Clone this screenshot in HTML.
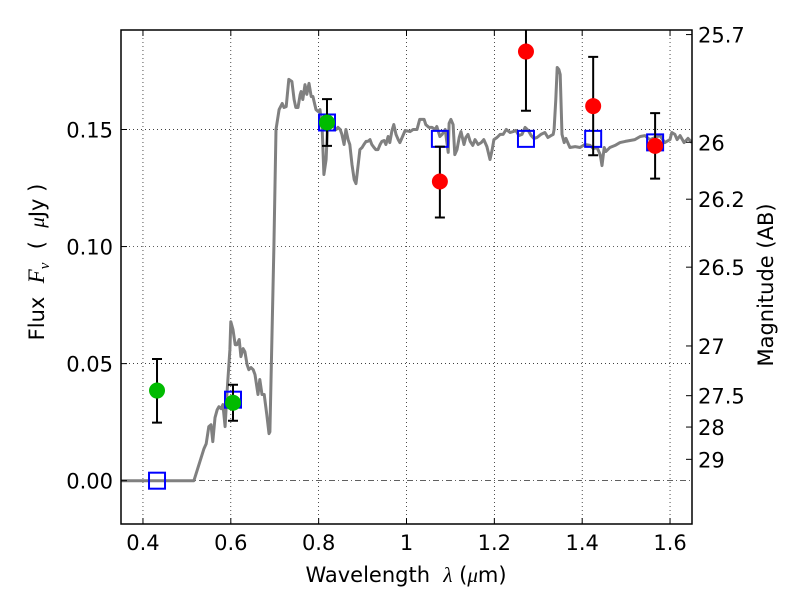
<!DOCTYPE html>
<html><head><meta charset="utf-8"><style>
body{margin:0;background:#fff}
svg{font-family:"DejaVu Sans","Liberation Sans",sans-serif}
.t{font-size:21px;fill:#000}
</style></head><body>
<svg id="c" width="800" height="600" viewBox="0 0 800 600">
<defs><clipPath id="pc"><rect x="121" y="30" width="571" height="494"/></clipPath></defs>
<rect x="0" y="0" width="800" height="600" fill="#fff"/>
<g id="grid"></g>
<g id="spec" clip-path="url(#pc)"></g>
<g id="pts" clip-path="url(#pc)"></g>
<g id="axes"></g>
<text class="t" x="406" y="582" text-anchor="middle" xml:space="preserve">Wavelength  <tspan font-family="Liberation Serif" font-style="italic">λ</tspan> (<tspan font-family="Liberation Serif" font-style="italic">μ</tspan>m)</text>
<text class="t" transform="translate(44,262) rotate(-90)" text-anchor="middle" xml:space="preserve">Flux  <tspan font-family="Liberation Serif" font-style="italic" font-size="23">F<tspan font-size="15" dy="5">ν</tspan></tspan><tspan dy="-5">  (  </tspan><tspan font-family="Liberation Serif" font-style="italic">μ</tspan>Jy )</text>
<text class="t" transform="translate(773,285) rotate(-90)" text-anchor="middle">Magnitude (AB)</text>
</svg>
<script>
const xTicks=[0.4,0.6,0.8,1.0,1.2,1.4,1.6];
const xTickLabels=["0.4","0.6","0.8","1","1.2","1.4","1.6"];
const yTicks=[0,0.05,0.10,0.15];
const yTickLabels=["0.00","0.05","0.10","0.15"];
const magTicks=[25.7,26,26.2,26.5,27,27.5,28,29];
const magLabels=["25.7","26","26.2","26.5","27","27.5","28","29"];
const specLam=[0.350,0.516,0.539,0.544,0.550,0.555,0.559,0.564,0.569,0.573,0.578,0.582,0.587,0.591,0.598,0.600,0.605,0.610,0.614,0.619,0.623,0.628,0.632,0.637,0.641,0.646,0.651,0.655,0.662,0.666,0.671,0.676,0.682,0.687,0.689,0.698,0.703,0.710,0.717,0.721,0.726,0.732,0.739,0.744,0.748,0.753,0.758,0.760,0.764,0.769,0.773,0.778,0.783,0.787,0.794,0.799,0.803,0.808,0.812,0.817,0.821,0.826,0.830,0.835,0.840,0.844,0.849,0.853,0.858,0.862,0.867,0.871,0.876,0.881,0.885,0.890,0.894,0.899,0.903,0.908,0.912,0.917,0.921,0.926,0.930,0.935,0.940,0.944,0.949,0.953,0.958,0.962,0.967,0.971,0.976,0.981,0.985,0.997,1.008,1.015,1.024,1.030,1.040,1.044,1.051,1.058,1.065,1.069,1.076,1.081,1.088,1.095,1.097,1.101,1.106,1.110,1.115,1.120,1.124,1.131,1.135,1.140,1.145,1.151,1.156,1.163,1.170,1.176,1.183,1.190,1.195,1.199,1.206,1.213,1.220,1.227,1.236,1.243,1.249,1.256,1.263,1.270,1.277,1.284,1.290,1.297,1.306,1.315,1.322,1.329,1.334,1.336,1.340,1.343,1.347,1.350,1.354,1.359,1.363,1.372,1.384,1.395,1.406,1.418,1.425,1.434,1.441,1.445,1.450,1.454,1.463,1.475,1.486,1.498,1.509,1.520,1.532,1.543,1.554,1.566,1.577,1.588,1.600,1.604,1.611,1.616,1.623,1.632,1.641,1.650];
const specFlux=[0,0,0.0137,0.0158,0.0231,0.0239,0.0167,0.0269,0.0303,0.0316,0.0308,0.0325,0.0231,0.0368,0.0560,0.0679,0.0645,0.0581,0.0581,0.0603,0.0530,0.0564,0.0551,0.0496,0.0474,0.0483,0.0474,0.0453,0.0368,0.0432,0.0368,0.0368,0.0282,0.0201,0.0209,0.1000,0.1500,0.1585,0.1611,0.1594,0.1598,0.1714,0.1705,0.1628,0.1594,0.1594,0.1650,0.1662,0.1628,0.1692,0.1650,0.1697,0.1641,0.1641,0.1585,0.1577,0.1585,0.1500,0.1308,0.1372,0.1543,0.1543,0.1521,0.1509,0.1500,0.1509,0.1500,0.1479,0.1436,0.1500,0.1457,0.1436,0.1350,0.1286,0.1269,0.1350,0.1414,0.1423,0.1436,0.1449,0.1449,0.1457,0.1436,0.1423,0.1414,0.1414,0.1436,0.1449,0.1453,0.1436,0.1470,0.1444,0.1496,0.1521,0.1479,0.1457,0.1444,0.1496,0.1491,0.1500,0.1500,0.1543,0.1543,0.1521,0.1509,0.1509,0.1500,0.1513,0.1470,0.1479,0.1500,0.1402,0.1526,0.1543,0.1521,0.1393,0.1414,0.1466,0.1491,0.1436,0.1466,0.1479,0.1449,0.1432,0.1457,0.1436,0.1444,0.1457,0.1427,0.1372,0.1414,0.1457,0.1466,0.1479,0.1479,0.1500,0.1487,0.1491,0.1496,0.1474,0.1479,0.1509,0.1496,0.1474,0.1462,0.1466,0.1479,0.1487,0.1466,0.1474,0.1479,0.1500,0.1628,0.1765,0.1756,0.1735,0.1479,0.1444,0.1462,0.1423,0.1427,0.1423,0.1436,0.1432,0.1419,0.1423,0.1393,0.1346,0.1423,0.1406,0.1423,0.1432,0.1444,0.1449,0.1453,0.1457,0.1470,0.1474,0.1457,0.1466,0.1474,0.1444,0.1457,0.1487,0.1479,0.1457,0.1474,0.1444,0.1462,0.1444];
const greenLam=[0.432,0.605,0.819];
const greenFlux=[0.0385,0.0333,0.1530];
const greenErrLo=[0.0248,0.0256,0.1430];
const greenErrHi=[0.0520,0.0410,0.1630];
const redLam=[1.076,1.272,1.425,1.566];
const redFlux=[0.1278,0.1833,0.1600,0.1430];
const redErrLo=[0.1124,0.1580,0.1390,0.1290];
const redErrHi=[0.1427,0.1950,0.1810,0.1570];
const modelLam=[0.432,0.605,0.819,1.076,1.272,1.425,1.566];
const modelFlux=[0.0,0.0346,0.1530,0.1460,0.1460,0.1460,0.1445];

const L=121,R=692,T=30,B=524,xmin=0.35,xmax=1.65,ymin=-0.0185,ymax=0.1925;
const X=v=>L+(v-xmin)/(xmax-xmin)*(R-L);
const Y=v=>B-(v-ymin)/(ymax-ymin)*(B-T);
const NS="http://www.w3.org/2000/svg";
function mk(tag,attrs,parent){const e=document.createElementNS(NS,tag);for(const k in attrs)e.setAttribute(k,attrs[k]);parent.appendChild(e);return e;}
const grid=document.getElementById('grid'),spec=document.getElementById('spec'),pts=document.getElementById('pts'),axes=document.getElementById('axes');
xTicks.forEach((v,i)=>{
 let g=mk('line',{x1:X(v),x2:X(v),y1:T,y2:B,stroke:'#000','stroke-width':0.7,'stroke-dasharray':'1,3'},grid);
 
 
 let t1=mk('line',{x1:X(v),x2:X(v),y1:B,y2:B-6,stroke:'#000'},axes);
 
 
 let t2=mk('line',{x1:X(v),x2:X(v),y1:T,y2:T+6,stroke:'#000'},axes);
 
 
 let tx=mk('text',{x:X(v),y:B+26,'text-anchor':'middle',class:'t'},axes);tx.textContent=xTickLabels[i];
 
 
});
yTicks.forEach((v,i)=>{
 let g=mk('line',{x1:L,x2:R,y1:Y(v),y2:Y(v),stroke:'#000','stroke-width':0.7,'stroke-dasharray':v===0?'6,3,1,3':'1,3'},grid);
 
 
 let t1=mk('line',{x1:L,x2:L+6,y1:Y(v),y2:Y(v),stroke:'#000'},axes);
 
 
 let tx=mk('text',{x:L-8,y:Y(v)+8,'text-anchor':'end',class:'t'},axes);tx.textContent=yTickLabels[i];
 
 
});
magTicks.forEach((m,i)=>{
 const y=Y(Math.pow(10,(23.9-m)/2.5));
 let t1=mk('line',{x1:R,x2:R-6,y1:y,y2:y,stroke:'#000'},axes);
 
 
 let tx=mk('text',{x:R+6,y:y+8,'text-anchor':'start',class:'t'},axes);tx.textContent=magLabels[i];
 
 
});
let d=specLam.map((l,i)=>(i?'L':'M')+X(l).toFixed(1)+','+Y(specFlux[i]).toFixed(1)).join('');
let sp=mk('path',{d:d,fill:'none',stroke:'#808080','stroke-width':3,'stroke-linejoin':'round'},spec);


modelLam.forEach((l,i)=>{
 let r=mk('rect',{x:X(l)-8,y:Y(modelFlux[i])-8,width:16,height:16,fill:'none',stroke:'#0000ff','stroke-width':2},pts);
 
 
});
function errbar(l,lo,hi){
 const x=X(l);
 let e=mk('path',{d:`M${x},${Y(lo)}L${x},${Y(hi)}M${x-5},${Y(lo)}L${x+5},${Y(lo)}M${x-5},${Y(hi)}L${x+5},${Y(hi)}`,stroke:'#000','stroke-width':2,fill:'none'},pts);
 
 
}
greenLam.forEach((l,i)=>{
 errbar(l,greenErrLo[i],greenErrHi[i]);
 let c=mk('circle',{cx:X(l),cy:Y(greenFlux[i]),r:8,fill:'#00bb00'},pts);
 
 
});
redLam.forEach((l,i)=>{
 errbar(l,redErrLo[i],redErrHi[i]);
 let c=mk('circle',{cx:X(l),cy:Y(redFlux[i]),r:8,fill:'#ff0000'},pts);
 
 
});
let fr=mk('rect',{x:L,y:T,width:R-L,height:B-T,fill:'none',stroke:'#000','stroke-width':1.5},axes);


</script>
</body></html>
